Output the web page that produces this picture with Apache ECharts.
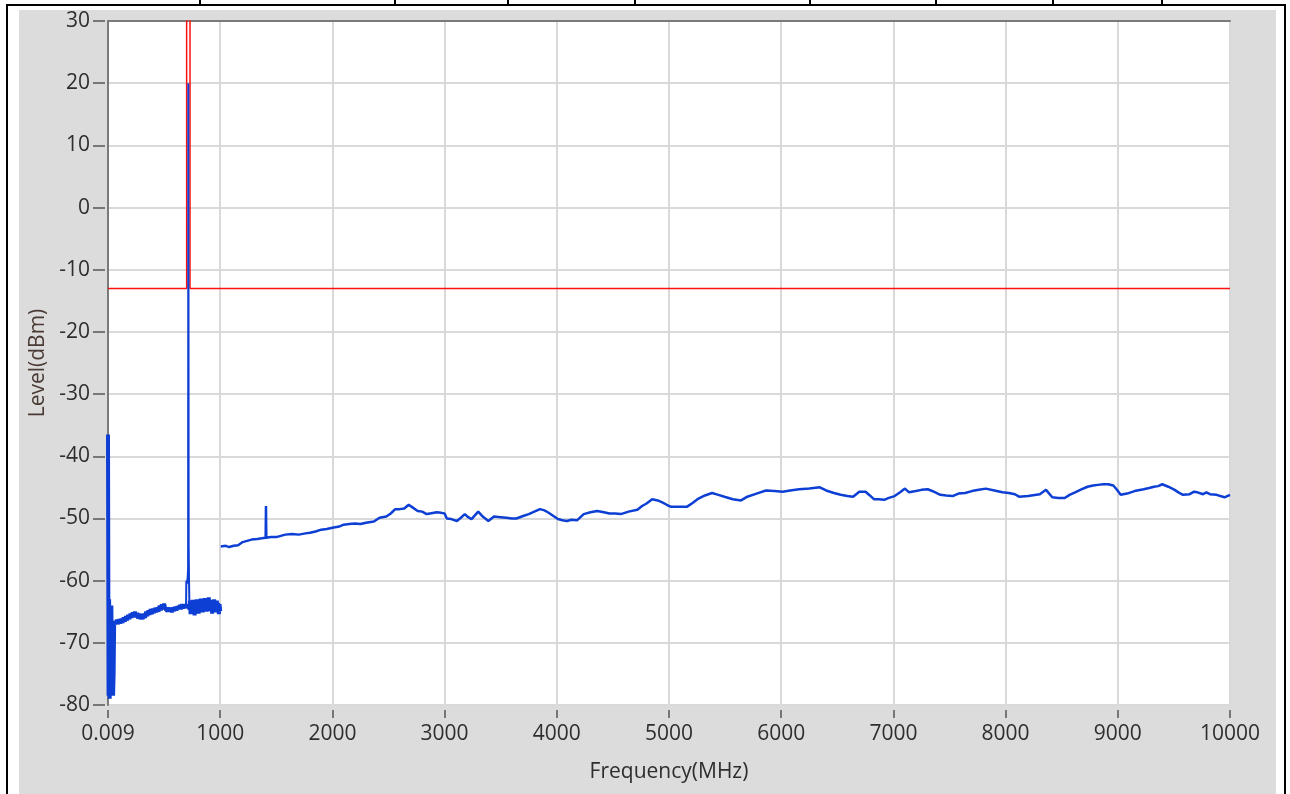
<!DOCTYPE html>
<html>
<head>
<meta charset="utf-8">
<script src="https://cdn.jsdelivr.net/npm/echarts@6/dist/echarts.min.js"></script>
<style>
  html, body { margin: 0; padding: 0; background: #ffffff; }
  #wrap { position: relative; width: 1290px; height: 794px; overflow: hidden; }
  .blk { position: absolute; background: #000; }
  #panel { position: absolute; left: 19px; top: 10px; width: 1257px; height: 784px; background: #dcdcdc; }
  #chart { position: absolute; left: 0; top: 0; width: 1290px; height: 794px; }
</style>
</head>
<body>
<div id="wrap">
  <div id="panel"></div>
  <div id="chart"></div>
</div>
<script>
// ---------- data (frequency in MHz, level in dBm) ----------
const xTickLabels = ['0.009', '1000', '2000', '3000', '4000', '5000', '6000', '7000', '8000', '9000', '10000'];
const yMin = -80, yMax = 30, yStep = 10;
const xMin = 0, xMax = 10000, xStep = 1000;

// 0.009 - 1000 MHz sweep: noise floor (dense, noisy trace)
const lowBand = [
  [0.009, -36.5], [5, -78.5], [10, -63], [15, -79], [20, -66], [25, -78], [30, -64], [35, -77],
  [40, -74], [45, -78.5], [50, -75], [55, -66.5],
  [60, -66.2], [70, -67.0], [80, -66.3], [90, -67.0], [100, -66.2], [110, -66.9], [120, -66.1],
  [130, -66.8], [140, -65.9], [150, -66.6], [160, -65.7], [170, -66.4], [180, -65.5], [190, -66.2],
  [200, -65.3], [210, -66.0], [220, -65.1], [230, -65.8], [240, -65.0], [250, -65.9], [260, -65.2],
  [270, -66.1], [280, -65.3], [290, -66.2], [300, -65.4], [310, -66.2], [320, -65.3], [330, -66.0],
  [340, -65.0], [350, -65.7], [360, -64.8], [370, -65.5], [380, -64.6], [390, -65.4], [400, -64.5],
  [410, -65.2], [420, -64.4], [430, -65.1], [440, -64.3], [450, -65.0], [460, -64.0], [470, -64.8],
  [480, -63.8], [490, -64.6], [500, -63.7], [510, -64.5], [520, -64.2], [530, -64.9], [540, -64.3],
  [550, -65.0], [560, -64.4], [570, -65.1], [580, -64.3], [590, -64.9], [600, -64.2], [610, -64.8],
  [620, -64.1], [630, -64.6], [640, -63.9], [650, -64.6], [660, -63.8], [670, -64.5], [680, -63.8],
  [690, -64.4], [696, -64.0], [726, -64.5],
  [730, -63.2], [736, -65.4], [742, -63.6], [748, -65.2], [754, -63.1], [760, -64.9], [766, -63.5],
  [772, -65.6], [778, -63.8], [784, -65.0], [790, -63.0], [796, -64.8], [802, -63.4], [808, -65.3],
  [814, -63.6], [820, -64.9], [826, -62.9], [832, -64.6], [838, -63.3], [844, -65.1], [850, -63.5],
  [856, -64.8], [862, -62.8], [868, -64.7], [874, -63.2], [880, -65.0], [886, -63.4], [892, -64.6],
  [898, -62.7], [904, -64.5], [910, -63.1], [916, -64.9], [922, -63.5], [928, -65.3], [934, -63.3],
  [940, -64.8], [946, -63.0], [952, -64.7], [958, -63.4], [964, -65.1], [970, -63.2], [976, -64.6],
  [982, -63.6], [988, -65.4], [994, -63.8], [1000, -64.9]
];

// Carrier (around 716 MHz)
const carrier = [
  [696, -64.0], [698, -60], [704, -60.5], [710, -59.5], [714, -58], [716, 20],
  [719, -54.3], [722, -60], [726, -64.5]
];

// 1000 - 10000 MHz sweep
const highBand = [
  [1005, -54.5], [1050, -54.4], [1080, -54.6], [1120, -54.4], [1160, -54.3], [1200, -53.8],
  [1240, -53.6], [1280, -53.4], [1330, -53.3], [1370, -53.2], [1405, -53.1], [1408, -48.0],
  [1411, -53.1], [1450, -53.0], [1500, -53.0], [1540, -52.8], [1580, -52.6], [1640, -52.5],
  [1700, -52.6], [1760, -52.4], [1800, -52.3], [1850, -52.1], [1900, -51.8], [1950, -51.7],
  [2000, -51.5], [2060, -51.3], [2100, -51.0], [2150, -50.9], [2200, -50.8], [2250, -50.9],
  [2300, -50.7], [2370, -50.5], [2420, -49.9], [2480, -49.7], [2520, -49.2], [2560, -48.5],
  [2600, -48.5], [2640, -48.4], [2680, -47.8], [2720, -48.3], [2760, -48.8], [2800, -48.9],
  [2840, -49.3], [2870, -49.2], [2930, -49.0], [2970, -49.1], [3000, -49.2], [3020, -50.0],
  [3060, -50.1], [3110, -50.4], [3150, -49.8], [3180, -49.3], [3210, -49.8], [3240, -50.1],
  [3270, -49.5], [3300, -48.9], [3340, -49.7], [3390, -50.4], [3440, -49.7], [3500, -49.8],
  [3550, -49.9], [3600, -50.0], [3640, -50.0], [3700, -49.6], [3750, -49.3], [3800, -48.9],
  [3850, -48.5], [3890, -48.7], [3920, -49.0], [3970, -49.6], [4010, -50.1], [4050, -50.3],
  [4090, -50.4], [4130, -50.2], [4180, -50.3], [4240, -49.3], [4300, -49.0], [4360, -48.8],
  [4420, -49.0], [4470, -49.2], [4520, -49.2], [4570, -49.3], [4640, -48.9], [4718, -48.6],
  [4760, -48.0], [4800, -47.6], [4850, -46.9], [4900, -47.1], [4940, -47.4], [4980, -47.8],
  [5014, -48.1], [5090, -48.1], [5162, -48.1], [5210, -47.5], [5254, -46.9], [5320, -46.3],
  [5384, -45.9], [5440, -46.2], [5494, -46.5], [5570, -46.9], [5642, -47.1], [5698, -46.5],
  [5780, -46.0], [5864, -45.5], [5940, -45.6], [6012, -45.7], [6080, -45.5], [6160, -45.3],
  [6250, -45.2], [6345, -45.0], [6400, -45.5], [6470, -45.9], [6530, -46.2], [6590, -46.4],
  [6641, -46.5], [6696, -45.7], [6752, -45.7], [6790, -46.3], [6826, -46.9], [6870, -46.9],
  [6918, -47.0], [6960, -46.7], [7011, -46.4], [7060, -45.8], [7103, -45.2], [7140, -45.8],
  [7200, -45.6], [7250, -45.4], [7306, -45.3], [7360, -45.7], [7418, -46.2], [7470, -46.3],
  [7528, -46.4], [7580, -46.0], [7639, -45.9], [7700, -45.6], [7760, -45.4], [7824, -45.2],
  [7900, -45.5], [7972, -45.8], [8030, -45.9], [8083, -46.1], [8120, -46.5], [8200, -46.4],
  [8305, -46.1], [8360, -45.4], [8416, -46.6], [8470, -46.7], [8527, -46.7], [8570, -46.2],
  [8619, -45.8], [8680, -45.3], [8730, -44.9], [8780, -44.7], [8823, -44.6], [8870, -44.5],
  [8915, -44.5], [8960, -44.7], [8989, -45.3], [9026, -46.2], [9082, -46.0], [9150, -45.6],
  [9230, -45.3], [9280, -45.1], [9322, -44.9], [9360, -44.8], [9396, -44.5], [9450, -44.9],
  [9507, -45.4], [9540, -45.8], [9581, -46.2], [9640, -46.1], [9680, -45.7], [9710, -45.8],
  [9760, -46.1], [9790, -45.8], [9821, -46.1], [9880, -46.2], [9951, -46.6], [10000, -46.2]
];

// Limit line (-13 dBm with notch around the carrier)
const limitLine = [
  [0.009, -13], [701, -13], [701, 45], [731, 45], [731, -13], [10000, -13]
];

// ---------- frame decoration ----------
(function () {
  const wrap = document.getElementById('wrap');
  const seps = [200, 395, 508, 635, 810, 936, 1053, 1162];
  const add = (l, t, w, h) => {
    const d = document.createElement('div');
    d.className = 'blk';
    d.style.left = l + 'px'; d.style.top = t + 'px';
    d.style.width = w + 'px'; d.style.height = h + 'px';
    wrap.insertBefore(d, wrap.firstChild);
  };
  add(6, 4, 1280, 2);
  add(6, 4, 2, 790);
  add(1284, 4, 2, 790);
  seps.forEach(x => add(x - 1, 0, 2, 5));
})();

// ---------- chart ----------
const FONT = '"Open Sans", "Noto Sans", sans-serif';
const TXT = '#2e2e2e';
const BLUE = '#0d3fd4';
const chart = echarts.init(document.getElementById('chart'), null, { renderer: 'canvas' });
chart.setOption({
  animation: false,
  backgroundColor: 'transparent',
  grid: {
    left: 108, top: 21, width: 1122, height: 684,
    show: true, backgroundColor: '#ffffff', borderWidth: 0
  },
  xAxis: [
    {
      type: 'value', min: xMin, max: xMax, interval: xStep, position: 'bottom', offset: 5,
      axisLine: { show: false, onZero: false },
      axisTick: { show: true, length: 8, lineStyle: { color: '#555555', width: 1.5 } },
      axisLabel: {
        margin: 14, fontSize: 21, fontFamily: FONT, color: TXT,
        formatter: v => xTickLabels[Math.round((v - xMin) / xStep)]
      },
      splitLine: { show: true, lineStyle: { color: '#d9d9d9', width: 2 } },
      name: 'Frequency(MHz)', nameLocation: 'middle', nameGap: 52,
      nameTextStyle: { fontSize: 21, fontFamily: FONT, color: TXT }
    },
    {
      type: 'value', min: xMin, max: xMax, interval: xStep, position: 'top',
      axisLine: { show: true, onZero: false, lineStyle: { color: '#7a7a7a', width: 2 } },
      axisTick: { show: false }, axisLabel: { show: false }, splitLine: { show: false }
    }
  ],
  yAxis: [
    {
      type: 'value', min: yMin, max: yMax, interval: yStep, position: 'left', offset: 3,
      axisLine: { show: false, onZero: false },
      axisTick: { show: true, length: 12, lineStyle: { color: '#555555', width: 1.5 } },
      axisLabel: { margin: 15, fontSize: 21, fontFamily: FONT, color: TXT },
      splitLine: { show: true, lineStyle: { color: '#d9d9d9', width: 2 } },
      name: 'Level(dBm)', nameLocation: 'middle', nameGap: 56,
      nameTextStyle: { fontSize: 21, fontFamily: FONT, color: '#4a3a34' }
    },
    {
      type: 'value', min: yMin, max: yMax, interval: yStep, position: 'left',
      axisLine: { show: true, onZero: false, lineStyle: { color: '#7a7a7a', width: 2 } },
      axisTick: { show: false }, axisLabel: { show: false }, splitLine: { show: false }
    }
  ],
  series: [
    {
      name: 'Limit', type: 'line', data: limitLine, xAxisIndex: 0, yAxisIndex: 0,
      showSymbol: false, symbol: 'none', silent: true, clip: true,
      lineStyle: { color: '#ff1010', width: 1.5 }
    },
    {
      name: 'Trace 9k-1G', type: 'line', data: lowBand, xAxisIndex: 0, yAxisIndex: 0,
      showSymbol: false, symbol: 'none', silent: true, clip: true,
      lineStyle: { color: BLUE, width: 4 }
    },
    {
      name: 'Carrier', type: 'line', data: carrier, xAxisIndex: 0, yAxisIndex: 0,
      showSymbol: false, symbol: 'none', silent: true, clip: true,
      lineStyle: { color: BLUE, width: 2 }
    },
    {
      name: 'Trace 1G-10G', type: 'line', data: highBand, xAxisIndex: 0, yAxisIndex: 0,
      showSymbol: false, symbol: 'none', silent: true, clip: true,
      lineStyle: { color: BLUE, width: 2.5 }
    }
  ]
});
</script>
</body>
</html>
